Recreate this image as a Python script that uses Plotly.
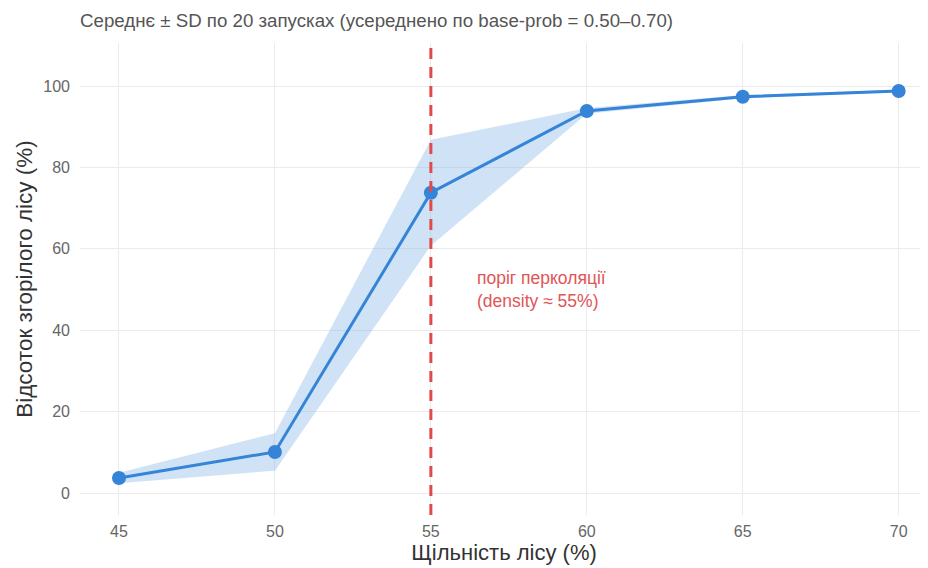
import plotly.graph_objects as go

density = [45, 50, 55, 60, 65, 70]
mean_burned = [3.7, 10.1, 73.8, 93.9, 97.4, 98.8]
sd_burned = [1.3, 4.6, 13.0, 0.7, 0.4, 0.3]
x_ticks = [45, 50, 55, 60, 65, 70]
y_ticks = [0, 20, 40, 60, 80, 100]
threshold = 55

upper = [m + s for m, s in zip(mean_burned, sd_burned)]
lower = [m - s for m, s in zip(mean_burned, sd_burned)]

FONT = "Liberation Sans, Arial"
W, H = 928, 568
OFF = 8  # page body margin offset

fig = go.Figure()
fig.add_trace(go.Scatter(x=density + density[::-1], y=upper + lower[::-1],
                         fill="toself", fillcolor="rgba(120,175,230,0.35)",
                         line=dict(width=0), mode="lines", hoverinfo="skip",
                         showlegend=False))
fig.add_trace(go.Scatter(x=density, y=mean_burned, mode="lines+markers",
                         line=dict(color="#3584d8", width=3),
                         marker=dict(color="#3584d8", size=14),
                         showlegend=False))
fig.add_shape(type="line", x0=threshold, x1=threshold, y0=0, y1=1, yref="paper",
              line=dict(color="#e04a4a", width=3, dash="11px,8px"))
fig.add_annotation(x=56.4, y=50, xanchor="left", yanchor="middle",
                   text="поріг перколяції<br>(density ≈ 55%)", showarrow=False,
                   align="left", font=dict(color="#e05555", size=17.5, family=FONT))

fig.update_layout(
    width=W, height=H, plot_bgcolor="white", paper_bgcolor="white",
    margin=dict(l=80 - OFF, r=OFF, t=43 - OFF, b=53 + OFF, autoexpand=False),
    font=dict(family=FONT, color="#555555"),
    title=dict(text="Середнє ± SD по 20 запусках (усереднено по base-prob = 0.50–0.70)",
               x=(80 - OFF) / W, xanchor="left", y=1 - (20 - OFF) / H, yanchor="middle",
               font=dict(size=18.7, color="#555555")),
)
fig.update_xaxes(range=[43.75, 70.94], tickvals=x_ticks, showgrid=True, automargin=False,
                 gridcolor="#ebebeb", gridwidth=1, zeroline=False, showline=False,
                 ticks="", tickfont=dict(size=16, color="#666666"), ticklabelstandoff=5,
                 title=dict(text="Щільність лісу (%)", font=dict(size=22, color="#333333"),
                            standoff=2))
fig.update_yaxes(range=[-5.4, 110.6], tickvals=y_ticks, showgrid=True, automargin=False,
                 gridcolor="#ebebeb", gridwidth=1, zeroline=False, showline=False,
                 ticks="", tickfont=dict(size=16, color="#666666"), ticklabelstandoff=9,
                 title=dict(text="Відсоток згорілого лісу (%)", font=dict(size=22.5, color="#333333"),
                            standoff=4))

fig.write_html("out.html")
